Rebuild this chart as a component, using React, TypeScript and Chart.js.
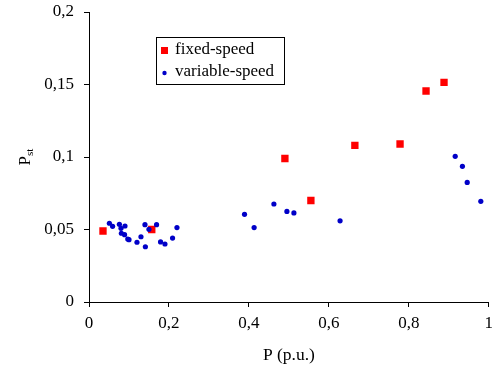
import React, { useEffect, useRef } from "react";
import { Chart, registerables } from "chart.js";

Chart.register(...registerables);

const fixedX = [0.035, 0.157, 0.49, 0.555, 0.665, 0.778, 0.843, 0.888];
const fixedY = [0.049, 0.05, 0.099, 0.07, 0.108, 0.109, 0.1455, 0.1515];

const varX = [
  0.051, 0.059, 0.076, 0.09, 0.08, 0.081, 0.089, 0.097, 0.1, 0.12, 0.13, 0.14, 0.141, 0.15,
  0.169, 0.179, 0.19, 0.209, 0.22, 0.389, 0.413, 0.4625, 0.495, 0.5125, 0.628, 0.916, 0.934,
  0.946, 0.98,
];
const varY = [
  0.0543, 0.0522, 0.0536, 0.0524, 0.0508, 0.0474, 0.0464, 0.0434, 0.043, 0.0412, 0.045, 0.0533,
  0.0381, 0.0501, 0.0533, 0.0414, 0.04, 0.0441, 0.0513, 0.0605, 0.0513, 0.0676, 0.0625, 0.0614,
  0.056, 0.1005, 0.0936, 0.0825, 0.0694,
];

const seriesNames = ["fixed-speed", "variable-speed"];
const xTitle = "P (p.u.)";
const yTitleMain = "P";
const yTitleSub = "st";

const FONT = "'Liberation Serif', 'Times New Roman', serif";
const RED = "#FF0000";
const BLUE = "#0000C8";

const fmt = (v: number) => String(Math.round(v * 100) / 100).replace(".", ",");

export default function App() {
  const ref = useRef<HTMLCanvasElement | null>(null);
  useEffect(() => {
    document.body.style.margin = "0";
    const canvas = ref.current!;
    const overlay = {
      id: "overlay",
      afterDraw(chart: any) {
        const ctx = chart.ctx;
        const area = chart.chartArea;
        ctx.save();
        // Y title
        ctx.translate(24, 157);
        ctx.rotate(-Math.PI / 2);
        ctx.fillStyle = "#000";
        ctx.textBaseline = "alphabetic";
        ctx.font = `17px ${FONT}`;
        const wP = ctx.measureText(yTitleMain).width;
        ctx.font = `11px ${FONT}`;
        const wS = ctx.measureText(yTitleSub).width;
        const start = -(wP + wS) / 2;
        ctx.font = `17px ${FONT}`;
        ctx.textAlign = "left";
        ctx.fillText(yTitleMain, start, 6);
        ctx.font = `11px ${FONT}`;
        ctx.fillText(yTitleSub, start + wP, 9);
        ctx.restore();

        // X title
        ctx.save();
        ctx.fillStyle = "#000";
        ctx.font = `17.5px ${FONT}`;
        ctx.textAlign = "center";
        ctx.textBaseline = "middle";
        ctx.fillText(xTitle, (area.left + area.right) / 2, 355);
        ctx.restore();

        // Legend
        ctx.save();
        ctx.strokeStyle = "#000";
        ctx.lineWidth = 1;
        ctx.strokeRect(156.5, 37.5, 128, 47);
        ctx.fillStyle = RED;
        ctx.fillRect(161, 47, 7, 7);
        ctx.fillStyle = BLUE;
        ctx.beginPath();
        ctx.arc(164.5, 73, 2.2, 0, Math.PI * 2);
        ctx.fill();
        ctx.fillStyle = "#000";
        ctx.font = `17px ${FONT}`;
        ctx.textAlign = "left";
        ctx.textBaseline = "middle";
        ctx.fillText(seriesNames[0], 175, 50);
        ctx.fillText(seriesNames[1], 175, 72);
        ctx.restore();
      },
    };
    const chart = new Chart(canvas, {
      type: "scatter",
      data: {
        datasets: [
          {
            label: seriesNames[1],
            data: varX.map((x, i) => ({ x, y: varY[i] })),
            pointStyle: "circle",
            pointRadius: 2.6,
            backgroundColor: BLUE,
            borderWidth: 0,
          },
          {
            label: seriesNames[0],
            data: fixedX.map((x, i) => ({ x, y: fixedY[i] })),
            pointStyle: "rect",
            pointRadius: 5.2,
            backgroundColor: RED,
            borderWidth: 0,
          },
        ],
      },
      options: {
        animation: false,
        responsive: false,
        layout: { padding: { top: 12, right: 5, left: 0, bottom: 0 } },
        plugins: { legend: { display: false }, tooltip: { enabled: false } },
        scales: {
          x: {
            type: "linear",
            min: 0,
            max: 1,
            ticks: {
              stepSize: 0.2,
              callback: (v: any) => fmt(Number(v)),
              color: "#000",
              font: { family: FONT, size: 17 },
              padding: 6,
              maxRotation: 0,
            },
            grid: { drawOnChartArea: false, drawTicks: true, tickLength: 5, color: "#000" },
            border: { color: "#000", width: 1 },
            afterFit: (s: any) => {
              s.height = 72;
              s.paddingLeft = 0;
              s.paddingRight = 0;
            },
          },
          y: {
            type: "linear",
            min: 0,
            max: 0.2,
            ticks: {
              stepSize: 0.05,
              callback: (v: any) => fmt(Number(v)),
              color: "#000",
              font: { family: FONT, size: 17 },
              padding: 10,
            },
            grid: { drawOnChartArea: false, drawTicks: true, tickLength: 5, color: "#000" },
            border: { color: "#000", width: 1 },
            afterFit: (s: any) => {
              s.width = 89;
              s.paddingTop = 0;
              s.paddingBottom = 0;
            },
          },
        },
      },
      plugins: [overlay],
    });
    return () => chart.destroy();
  }, []);
  return <canvas ref={ref} width={494} height={374} style={{ display: "block" }} />;
}
